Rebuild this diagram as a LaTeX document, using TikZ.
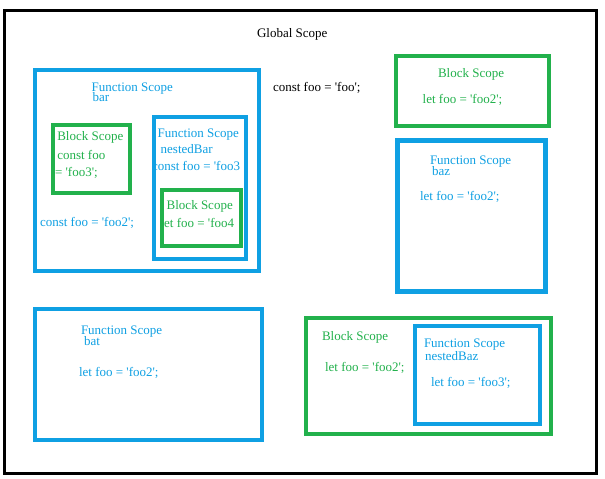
\documentclass[tikz,border=0pt]{standalone}
\usepackage{fontspec}
\setmainfont{Liberation Serif}[Ligatures=TeXOff]
\definecolor{scopeblue}{HTML}{0FA0E3}
\definecolor{scopegreen}{HTML}{22B14C}
\begin{document}
\begin{tikzpicture}[x=1pt,y=-1pt,
  box/.style={draw, rectangle, inner sep=0pt, outer sep=0pt},
  fnbox/.style={box, draw=scopeblue, line width=4pt},
  blkbox/.style={box, draw=scopegreen, line width=4pt},
  lbl/.style={anchor=base west, inner sep=0pt, outer sep=0pt, font=\fontsize{13}{15}\selectfont},
  bl/.style={lbl, text=scopeblue},
  gl/.style={lbl, text=scopegreen},
  kl/.style={lbl, text=black}]
\useasboundingbox (0,0) rectangle (605,479);
\fill[white] (0,0) rectangle (605,479);
% outer frame
\node[box, draw=black, line width=3.5pt, minimum width=592pt, minimum height=463pt] (global) at (300.5,242) {};
\node[kl] (gtitle) at (257,37.7) {Global Scope};
\node[kl] (gfoo) at (273,91.7) {const foo = 'foo';};
% bar
\node[fnbox, minimum width=224pt, minimum height=201pt] (bar) at (147,170.5) {};
\node[bl] (bart1) at (91.7,91.7) {Function Scope};
\node[bl] (bart2) at (92.7,101.5) {bar};
\node[bl] (barfoo) at (40,226) {const foo = 'foo2';};
\node[blkbox, minimum width=77pt, minimum height=68pt] (blka) at (91.5,159) {};
\node[gl] (blkat1) at (57.3,140.7) {Block Scope};
\node[gl] (blkat2) at (57.3,159) {const foo};
\node[gl] (blkat3) at (55,176) {= 'foo3';};
% nestedBar
\node[bl] (nbt1) at (157.7,137) {Function Scope};
\node[bl] (nbt2) at (160.7,153) {nestedBar};
\node[bl] (nbt3) at (152,170.7) {const foo = 'foo3};
\node[fnbox, minimum width=92pt, minimum height=142pt] (nestedbar) at (200,188) {};
\node[gl] (blkbt1) at (166.7,209) {Block Scope};
\node[gl] (blkbt2) at (160.5,227.7) {let foo = 'foo4};
\node[blkbox, minimum width=79.5pt, minimum height=56pt] (blkb) at (201.25,218) {};
% top right block
\node[blkbox, line width=4.5pt, minimum width=153pt, minimum height=70pt] (blkc) at (472.5,91) {};
\node[gl] (blkct1) at (438,77.3) {Block Scope};
\node[gl] (blkct2) at (422.7,103.3) {let foo = 'foo2';};
% baz
\node[fnbox, line width=4.5pt, minimum width=148pt, minimum height=151pt] (baz) at (471.5,216) {};
\node[bl] (bazt1) at (430,164.3) {Function Scope};
\node[bl] (bazt2) at (432,175.7) {baz};
\node[bl] (bazt3) at (420,200.7) {let foo = 'foo2';};
% bat
\node[fnbox, minimum width=227pt, minimum height=131pt] (bat) at (148.5,374.5) {};
\node[bl] (batt1) at (81,334) {Function Scope};
\node[bl] (batt2) at (84,345.7) {bat};
\node[bl] (batt3) at (79,376) {let foo = 'foo2';};
% bottom right block
\node[blkbox, minimum width=245.5pt, minimum height=116pt] (blkd) at (428.25,376) {};
\node[gl] (blkdt1) at (322,340) {Block Scope};
\node[gl] (blkdt2) at (325,371) {let foo = 'foo2';};
% nestedBaz
\node[fnbox, minimum width=125pt, minimum height=98pt] (nestedbaz) at (477.5,375) {};
\node[bl] (nbzt1) at (424,347.7) {Function Scope};
\node[bl] (nbzt2) at (425,360.7) {nestedBaz};
\node[bl] (nbzt3) at (431,386.7) {let foo = 'foo3';};
\end{tikzpicture}
\end{document}
